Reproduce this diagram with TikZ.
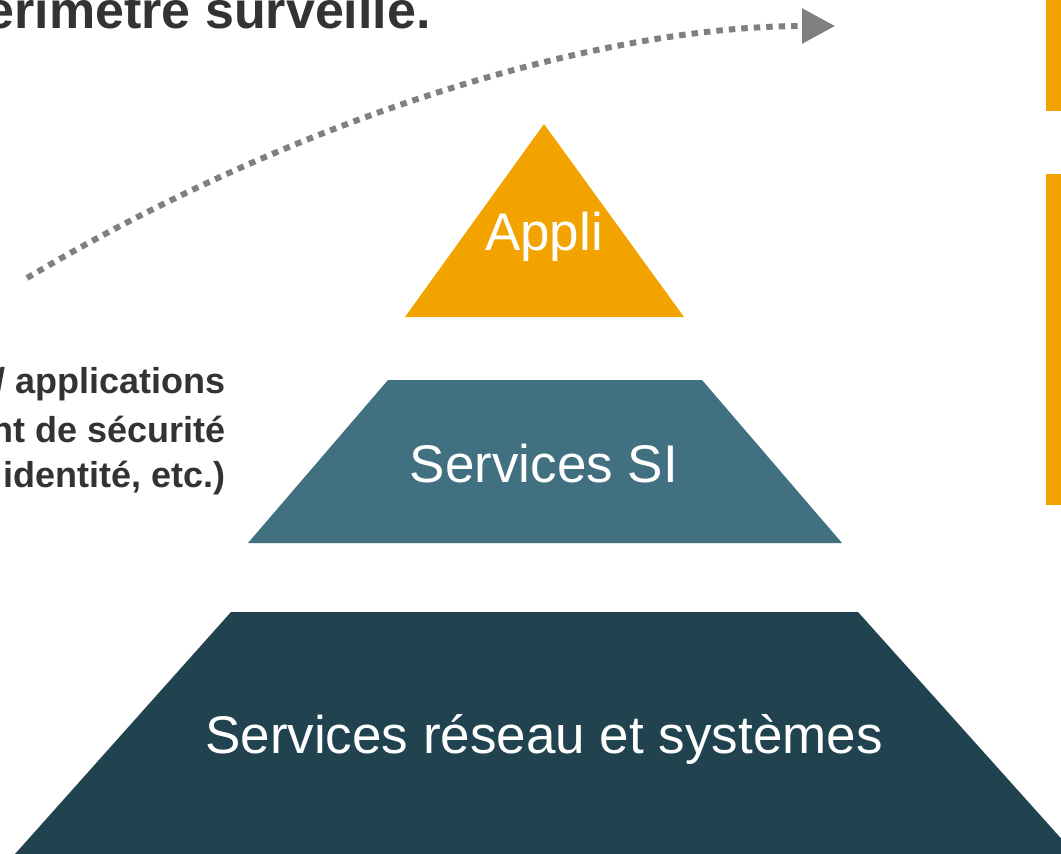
\documentclass[tikz,border=0pt]{standalone}
\usepackage{fontspec}
\setmainfont{Liberation Sans}
\usetikzlibrary{arrows.meta}
\definecolor{appliorange}{RGB}{242,163,0}
\definecolor{siblue}{RGB}{65,112,128}
\definecolor{netblue}{RGB}{33,66,79}
\definecolor{arrowgray}{RGB}{128,128,128}
\definecolor{textgray}{RGB}{51,51,51}

\begin{document}
\begin{tikzpicture}[x=1pt, y=-1pt,
    layertext/.style={anchor=base, text=white, inner sep=0pt, font=\fontsize{53}{63}\selectfont},
    sidetext/.style={anchor=base east, text=textgray, inner sep=0pt, font=\bfseries\fontsize{36}{43}\selectfont}]
    \path[use as bounding box, clip] (0,0) rectangle (1061,854);
    % pyramid layers
    \fill[appliorange] (405,317) -- (544,124) -- (684,317) -- cycle;
    \fill[siblue] (248,543) -- (388,380) -- (702,380) -- (842,543) -- cycle;
    \fill[netblue] (15,854) -- (231,612) -- (858,612) -- (1075,854) -- cycle;
    \node[layertext] (appli) at (544,250) {Appli};
    \node[layertext] (servsi) at (544,482) {Services SI};
    \node[layertext] (servres) at (544,753) {Services réseau et systèmes};
    % side bars
    \fill[appliorange] (1046,0) rectangle (1061,111);
    \fill[appliorange] (1046,174) rectangle (1061,505);
    % texts on the left
    \node[anchor=base east, text=textgray, inner sep=0pt, font=\bfseries\fontsize{52}{62}\selectfont] (titre) at (431,28) {périmètre surveillé.};
    \node[sidetext] (lignea) at (226,393) {/ applications};
    \node[sidetext] (ligneb) at (226,442) {nt de sécurité};
    \node[sidetext] (lignec) at (226,487) {identité, etc.)};
    % dotted arrow
    \coordinate (debut) at (27,278);
    \coordinate (fin) at (835,26);
    \draw[arrowgray, line width=6pt, dash pattern=on 6.5pt off 6pt, -{Triangle[length=33pt,width=34pt]}]
        (debut) .. controls (300,116) and (600,26) .. (fin);
\end{tikzpicture}
\end{document}
